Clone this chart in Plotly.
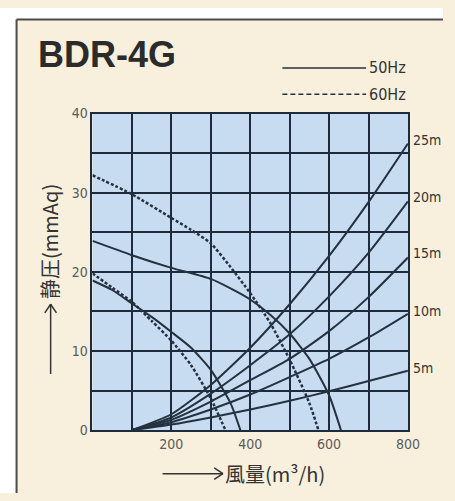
import plotly.graph_objects as go

W, H = 455, 501

# ---- data ----
x_ticks = [0, 100, 200, 300, 400, 500, 600, 700, 800]
x_tick_labels = ["", "", "200", "", "400", "", "600", "", "800"]
y_ticks = [0, 5, 10, 15, 20, 25, 30, 35, 40]
y_tick_labels = ["0", "", "10", "", "20", "", "30", "", "40"]

# fan curves (air volume m3/h, static pressure mmAq)
hi50_x = [0, 100, 200, 300, 350, 400, 450, 500, 550, 600, 630]
hi50_y = [23.9, 22.1, 20.5, 19.1, 17.9, 16.5, 14.6, 12.2, 9.0, 4.4, 0]
hi60_x = [0, 100, 200, 250, 300, 350, 400, 450, 500, 550, 573]
hi60_y = [32.2, 29.8, 26.8, 25.3, 23.6, 20.6, 17.3, 13.6, 8.9, 3.4, 0]
lo50_x = [0, 50, 100, 150, 200, 250, 300, 350, 375]
lo50_y = [18.9, 17.7, 16.0, 14.3, 12.4, 10.4, 7.6, 3.4, 0]
lo60_x = [0, 50, 100, 150, 200, 250, 300, 337]
lo60_y = [19.8, 18.0, 16.2, 13.8, 11.3, 8.2, 4.0, 0]

# duct resistance curves
duct_x = [100, 200, 300, 400, 500, 600, 700, 800]
duct_names = ["25m", "20m", "15m", "10m", "5m"]
duct_25 = [0, 2.0, 5.7, 10.4, 15.9, 22.0, 28.8, 36.2]
duct_20 = [0, 1.6, 4.6, 8.2, 12.1, 16.9, 22.4, 28.9]
duct_15 = [0, 1.3, 3.6, 6.3, 9.0, 12.5, 16.8, 21.8]
duct_10 = [0, 1.0, 2.6, 4.5, 6.7, 9.0, 11.7, 14.7]
duct_5 = [0, 0.7, 1.6, 2.6, 3.7, 4.9, 6.2, 7.5]
duct_label_y = [36.6, 29.4, 22.4, 15.0, 7.8]

LINE = "#24323f"
GRID = "#1d2b3c"
CREAM = "#f8f0dd"
BLUE = "#c7dbf1"
TXT = "#5a5a5a"

fig = go.Figure()

for ys in [duct_25, duct_20, duct_15, duct_10, duct_5]:
    fig.add_trace(go.Scatter(x=duct_x, y=ys, mode="lines",
                             line=dict(color=LINE, width=2, shape="spline", smoothing=0.6),
                             showlegend=False, hoverinfo="skip"))

for xs, ys, dash, w in [(hi50_x, hi50_y, "solid", 2), (lo50_x, lo50_y, "solid", 2),
                        (hi60_x, hi60_y, "3px,2px", 2.5), (lo60_x, lo60_y, "3px,2px", 2.5)]:
    fig.add_trace(go.Scatter(x=xs, y=ys, mode="lines",
                             line=dict(color=LINE, width=w, dash=dash, shape="spline", smoothing=0.6),
                             showlegend=False, hoverinfo="skip"))

def px(x):
    return x / W

def py(y):
    return 1 - y / H

ARROW = "#333"
shapes = [
    # white surround outside the frame
    dict(type="rect", xref="paper", yref="paper", x0=0, x1=1, y0=py(12), y1=1,
         fillcolor="white", line=dict(width=0), layer="below"),
    dict(type="rect", xref="paper", yref="paper", x0=0, x1=px(17), y0=0, y1=1,
         fillcolor="white", line=dict(width=0), layer="below"),
    dict(type="line", xref="paper", yref="paper", x0=px(17), x1=1, y0=py(12), y1=py(12),
         line=dict(color="#4a4a4a", width=2)),
    dict(type="line", xref="paper", yref="paper", x0=px(17), x1=px(17), y0=py(12), y1=0,
         line=dict(color="#4a4a4a", width=2)),
    # legend samples
    dict(type="line", xref="paper", yref="paper", x0=px(290), x1=px(376), y0=py(62), y1=py(62),
         line=dict(color=LINE, width=1.5)),
    dict(type="line", xref="paper", yref="paper", x0=px(290), x1=px(376), y0=py(89), y1=py(89),
         line=dict(color=LINE, width=1.5, dash="5px,3px")),
    # y axis title arrow
    dict(type="line", xref="paper", yref="paper", x0=px(52), x1=px(52), y0=py(378), y1=py(306),
         line=dict(color=ARROW, width=1.5)),
    dict(type="line", xref="paper", yref="paper", x0=px(46), x1=px(52), y0=py(315), y1=py(306),
         line=dict(color=ARROW, width=1.5)),
    dict(type="line", xref="paper", yref="paper", x0=px(58), x1=px(52), y0=py(315), y1=py(306),
         line=dict(color=ARROW, width=1.5)),
    # x axis title arrow
    dict(type="line", xref="paper", yref="paper", x0=px(167), x1=px(229), y0=py(481), y1=py(481),
         line=dict(color=ARROW, width=1.5)),
    dict(type="line", xref="paper", yref="paper", x0=px(220), x1=px(229), y0=py(475), y1=py(481),
         line=dict(color=ARROW, width=1.5)),
    dict(type="line", xref="paper", yref="paper", x0=px(220), x1=px(229), y0=py(487), y1=py(481),
         line=dict(color=ARROW, width=1.5)),
]

NARROW = "DejaVu Sans Condensed, Liberation Sans Narrow, sans-serif"

annotations = [
    dict(xref="paper", yref="paper", x=px(37), y=py(48), text="<b>BDR-4G</b>",
         showarrow=False, xanchor="left", yanchor="middle",
         font=dict(family="Liberation Sans, Arial, sans-serif", size=36, color="#2b2b2b")),
    dict(xref="paper", yref="paper", x=px(377), y=py(61), text="50Hz",
         showarrow=False, xanchor="left", yanchor="middle",
         font=dict(family=NARROW, size=16, color="#333")),
    dict(xref="paper", yref="paper", x=px(377), y=py(89), text="60Hz",
         showarrow=False, xanchor="left", yanchor="middle",
         font=dict(family=NARROW, size=16, color="#333")),
    dict(xref="paper", yref="paper", x=px(51), y=py(241), text="静圧(mmAq)",
         showarrow=False, textangle=-90, xanchor="center", yanchor="middle",
         font=dict(family="Noto Sans CJK JP, sans-serif", size=20, color="#333")),
    dict(xref="paper", yref="paper", x=px(229), y=py(481), text="風量(m³/h)",
         showarrow=False, xanchor="left", yanchor="middle",
         font=dict(family="Noto Sans CJK JP, sans-serif", size=20, color="#333")),
]

for name, yv in zip(duct_names, duct_label_y):
    annotations.append(dict(x=800, y=yv, xref="x", yref="y", text=name, showarrow=False,
                            xanchor="left", yanchor="middle", xshift=3,
                            font=dict(family=NARROW, size=14, color="#333")))

tickfont = dict(family=NARROW, size=14, color=TXT)

fig.update_layout(
    width=W, height=H,
    autosize=False,
    margin=dict(l=0, r=0, t=0, b=0, pad=0),
    paper_bgcolor=CREAM,
    plot_bgcolor=BLUE,
    shapes=shapes,
    annotations=annotations,
    showlegend=False,
    xaxis=dict(domain=[95 / W, 419 / W], range=[0, 800], tickvals=x_ticks, ticktext=x_tick_labels,
               showgrid=True, gridcolor=GRID, gridwidth=2, showline=True, mirror=True,
               linecolor=GRID, linewidth=2, zeroline=False, ticks="", tickfont=tickfont,
               fixedrange=True),
    yaxis=dict(domain=[(H - 436) / H, (H - 109) / H], range=[0, 40], tickvals=y_ticks,
               ticktext=y_tick_labels, showgrid=True, gridcolor=GRID, gridwidth=2, showline=True,
               mirror=True, linecolor=GRID, linewidth=2, zeroline=False, ticks="",
               tickfont=tickfont, fixedrange=True),
)

page_fix = (
    "var de=document.documentElement, b=document.body;"
    "de.style.margin='0';de.style.padding='0';de.style.overflow='hidden';"
    "b.style.margin='0';b.style.padding='0';b.style.overflow='hidden';"
)

fig.write_html("out.html", config={"responsive": False, "displayModeBar": False},
               post_script=page_fix)
